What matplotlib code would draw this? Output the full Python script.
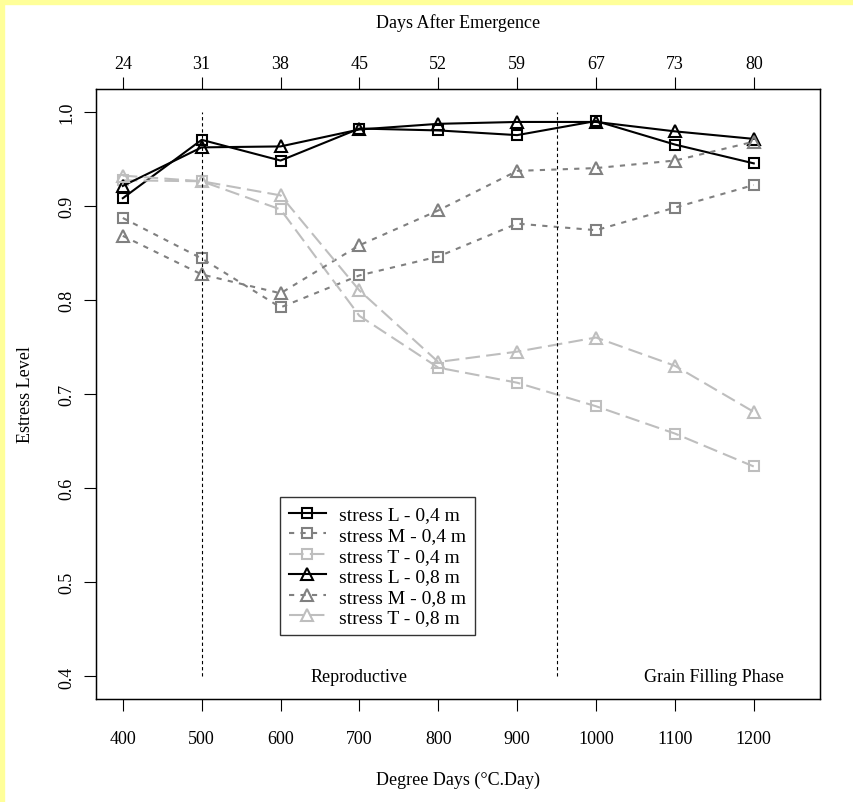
#!/usr/bin/env python3

import matplotlib
matplotlib.use("Agg")
import matplotlib.pyplot as plt
from matplotlib.patches import Rectangle

plt.rcParams['font.family'] = ['Liberation Serif', 'DejaVu Serif']

# degree days on the bottom axis, days after emergence on the top axis
degree_days = [400, 500, 600, 700, 800, 900, 1000, 1100, 1200]
days_after = ['24', '31', '38', '45', '52', '59', '67', '73', '80']

# stress levels
stress_L_04 = [0.908, 0.970, 0.948, 0.982, 0.980, 0.975, 0.990, 0.965, 0.945]
stress_M_04 = [0.887, 0.844, 0.792, 0.826, 0.846, 0.881, 0.874, 0.898, 0.922]
stress_T_04 = [0.927, 0.926, 0.896, 0.783, 0.728, 0.712, 0.687, 0.658, 0.623]
stress_L_08 = [0.921, 0.962, 0.963, 0.981, 0.987, 0.989, 0.989, 0.979, 0.971]
stress_M_08 = [0.868, 0.827, 0.807, 0.858, 0.895, 0.937, 0.940, 0.948, 0.968]
stress_T_08 = [0.932, 0.926, 0.911, 0.810, 0.734, 0.745, 0.760, 0.730, 0.681]

phase_lines = [500, 950]

# ----------------------------------------------------------------------

W, H = 854, 803
fig = plt.figure(figsize=(W / 100, H / 100), dpi=100)
fig.patch.set_facecolor('white')
# yellow strip along top and left edges
fig.patches.append(Rectangle((0, 1 - 5 / H), 1, 5 / H, transform=fig.transFigure,
                             color='#ffff99', zorder=0))
fig.patches.append(Rectangle((0, 0), 4 / W, 1, transform=fig.transFigure,
                             color='#ffff99', zorder=0))

ax = fig.add_axes([96 / W, 1 - 700 / H, 724 / W, 610 / H])

black = 'black'
gray = '#808080'
light = '#bebebe'
solid = '-'
dotted = (0, (2.5, 3))
longdash = (0, (7, 3))

series = [
    (stress_L_04, black, solid, 's', 'stress L - 0,4 m'),
    (stress_M_04, gray, dotted, 's', 'stress M - 0,4 m'),
    (stress_T_04, light, longdash, 's', 'stress T - 0,4 m'),
    (stress_L_08, black, solid, '^', 'stress L - 0,8 m'),
    (stress_M_08, gray, dotted, '^', 'stress M - 0,8 m'),
    (stress_T_08, light, longdash, '^', 'stress T - 0,8 m'),
]

for vals, col, ls, mk, lab in series:
    ax.plot(degree_days, vals, color=col, linestyle=ls, linewidth=1.5,
            marker=mk, markersize=7 if mk == 's' else 8.5,
            markerfacecolor='none', markeredgecolor=col, markeredgewidth=1.5,
            label=lab)

for xv in phase_lines:
    ax.plot([xv, xv], [0.4, 1.0], color='black', linewidth=0.8,
            linestyle=(0, (3, 2.5)))

ax.text(700, 0.40, 'Reproductive', ha='center', va='center', fontsize=13)
ax.text(1150, 0.40, 'Grain Filling Phase', ha='center', va='center', fontsize=13)

ax.set_xlim(366, 1284)
ax.set_ylim(0.376, 1.024)
ax.set_xticks(degree_days)
ax.set_yticks([0.4, 0.5, 0.6, 0.7, 0.8, 0.9, 1.0])
ax.set_yticklabels(['0.4', '0.5', '0.6', '0.7', '0.8', '0.9', '1.0'],
                   rotation=90, va='center')
ax.tick_params(direction='out', length=8.5, width=0.8, labelsize=13)
ax.tick_params(axis='x', pad=14)
ax.tick_params(axis='y', pad=6)
for sp in ax.spines.values():
    sp.set_linewidth(1.0)

ax.set_xlabel('Degree Days (°C.Day)', fontsize=13, labelpad=17)
ax.set_ylabel('Estress Level', fontsize=13, labelpad=18)

ax2 = ax.twiny()
ax2.set_xlim(ax.get_xlim())
ax2.set_xticks(degree_days)
ax2.set_xticklabels(days_after)
ax2.tick_params(direction='out', length=8.5, width=0.8, labelsize=13, pad=4)
ax2.set_xlabel('Days After Emergence', fontsize=13, labelpad=20)

leg = ax.legend(loc='lower left', bbox_to_anchor=(0.254, 0.105), borderaxespad=0,
                fontsize=14, frameon=True, fancybox=False, edgecolor='black',
                handlelength=1.9, handletextpad=0.7, labelspacing=0.15,
                borderpad=0.45)
leg.get_frame().set_linewidth(1.0)

plt.savefig('out.png', dpi=100)
